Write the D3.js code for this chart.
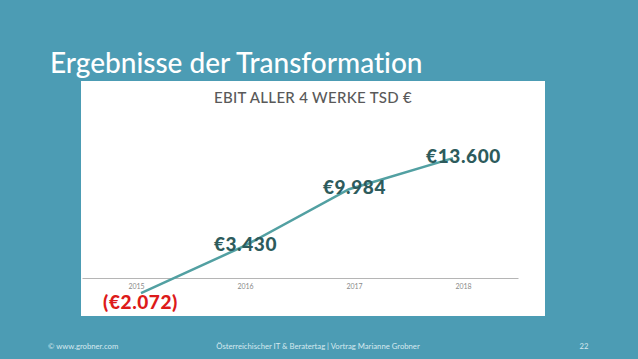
<!DOCTYPE html>
<html>
<head>
<meta charset="utf-8">
<script src="https://cdn.jsdelivr.net/npm/d3@7"></script>
<style>
  body { margin: 0; background: #4c9cb4; }
  svg { display: block; }
  text { font-variant-ligatures: none; }
</style>
</head>
<body>
<svg id="chart"></svg>
<script>
// Chart data
const years = ["2015", "2016", "2017", "2018"];
const ebit = [-2072, 3430, 9984, 13600];
const valueLabels = ["(€2.072)", "€3.430", "€9.984", "€13.600"];

const W = 638, H = 359;
const svg = d3.select("#chart").attr("width", W).attr("height", H);

// Background
svg.append("rect").attr("width", W).attr("height", H).attr("fill", "#4c9cb4");

// Slide title
svg.append("text")
    .attr("x", 50)
    .attr("y", 73)
    .attr("fill", "#ffffff")
    .style("font-family", "Lato, sans-serif")
    .style("font-size", "28px")
    .style("font-weight", 500)
    .text("Ergebnisse der Transformation");

// White chart panel
const panel = { x: 81, y: 81, w: 464, h: 235 };
svg.append("rect")
    .attr("x", panel.x).attr("y", panel.y)
    .attr("width", panel.w).attr("height", panel.h)
    .attr("fill", "#ffffff");

// Chart title
svg.append("text")
    .attr("x", panel.x + panel.w / 2)
    .attr("y", 103)
    .attr("text-anchor", "middle")
    .attr("fill", "#595959")
    .style("font-family", "Lato, sans-serif")
    .style("font-size", "15px")
    .style("font-weight", 500)
    .style("letter-spacing", "0.3px")
    .text("EBIT ALLER 4 WERKE TSD €");

// Scales
const xScale = d3.scaleBand().domain(years).range([82, 518]);
// the line itself sits slightly inside the category centres
const lineX = d3.scalePoint().domain(years).range([141, 453]);
const yScale = d3.scaleLinear().domain([-4000, 16000]).range([309.7, 137.4]);
const axisY = 278;

// Category axis
const xAxis = svg.append("g")
    .attr("transform", `translate(0,${axisY})`)
    .call(d3.axisBottom(xScale).tickSize(0).tickPadding(6));
xAxis.select(".domain").attr("stroke", "#b5b5b5").attr("stroke-width", 1);
xAxis.selectAll("text")
    .attr("fill", "#8a8a8a")
    .style("font-family", "Lato, sans-serif")
    .style("font-size", "7px");

// Line
const data = years.map((y, i) => ({ year: y, value: ebit[i], label: valueLabels[i] }));
svg.append("path")
    .datum(data)
    .attr("fill", "none")
    .attr("stroke", "#52a0a2")
    .attr("stroke-width", 2.5)
    .attr("d", d3.line().x(d => lineX(d.year)).y(d => yScale(d.value)));

// Value labels
svg.selectAll(".value-label")
    .data(data)
    .enter().append("text")
    .attr("class", "value-label")
    .attr("x", d => xScale(d.year) + xScale.bandwidth() / 2 + (d.value < 0 ? 4 : 0))
    .attr("y", d => yScale(d.value) + (d.value < 0 ? 16 : 5))
    .attr("text-anchor", "middle")
    .attr("fill", d => d.value < 0 ? "#dd1a1a" : "#2d5b5c")
    .style("font-family", "Lato, sans-serif")
    .style("font-size", "19px")
    .style("font-weight", "900")
    .style("letter-spacing", "0.6px")
    .text(d => d.label);

// Footer
const footer = [
    { text: "© www.grobner.com", x: 48, anchor: "start" },
    { text: "Österreichischer IT & Beratertag | Vortrag Marianne Grobner", x: 318, anchor: "middle" },
    { text: "22", x: 584, anchor: "middle" }
];
svg.selectAll(".footer")
    .data(footer)
    .enter().append("text")
    .attr("class", "footer")
    .attr("x", d => d.x)
    .attr("y", 349)
    .attr("text-anchor", d => d.anchor)
    .attr("fill", "#d6e9ef")
    .style("font-family", "Lato, sans-serif")
    .style("font-size", "7.7px")
    .text(d => d.text);
</script>
</body>
</html>
